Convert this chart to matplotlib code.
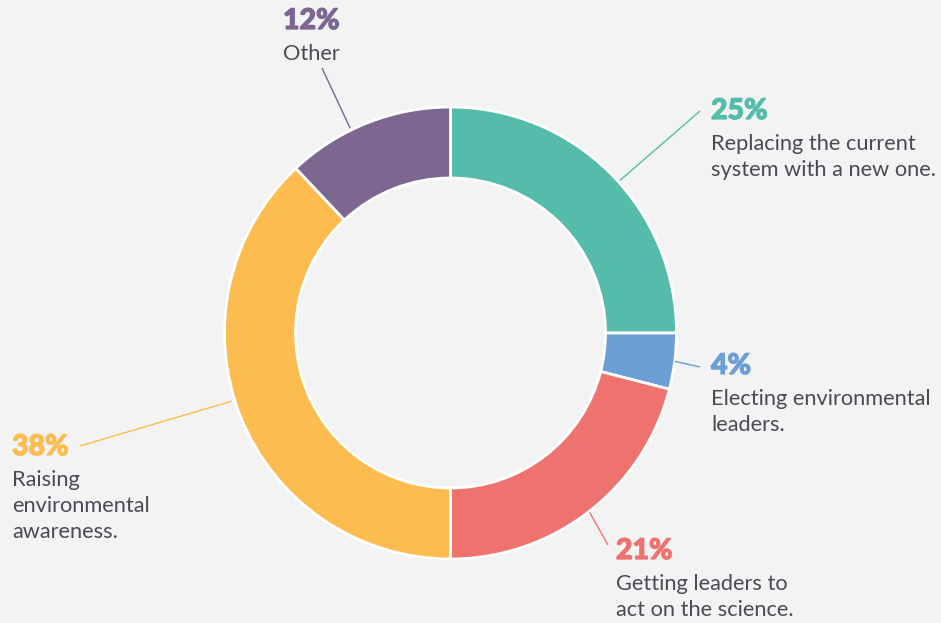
import matplotlib
matplotlib.use("Agg")
import matplotlib.pyplot as plt
import matplotlib.patheffects as pe
import numpy as np

categories = ["Replacing the current\nsystem with a new one.",
              "Electing environmental\nleaders.",
              "Getting leaders to\nact on the science.",
              "Raising\nenvironmental\nawareness.",
              "Other"]
values = [25, 4, 21, 38, 12]
pct_labels = ["25%", "4%", "21%", "38%", "12%"]
colors = ["#55BCAB", "#6E9ED6", "#EE726D", "#FCBC50", "#7D6690"]

W, H = 941, 623
BG = "#F3F3F3"
TXT = "#4A4A56"
FONT = "Lato"

fig = plt.figure(figsize=(W / 100, H / 100), dpi=100, facecolor=BG)
ax = fig.add_axes([0, 0, 1, 1])
ax.set_facecolor(BG)

cx, cy, R = 450.5, H - 333, 226
ring = 71
ax.pie(values, colors=colors, startangle=90, counterclock=False,
       center=(cx, cy), radius=R, frame=True,
       wedgeprops=dict(width=ring, edgecolor="white", linewidth=2))
ax.set_xlim(0, W)
ax.set_ylim(0, H)
ax.set_aspect("equal")
ax.axis("off")

# label layout: (text x, pct baseline y px, leader end px)
label_pos = [(711, 119, (700, 111)),
             (711, 374, (700, 367)),
             (616, 559, (608, 545)),
             (12, 455, (80, 446)),
             (283, 29, (322, 68))]
leader_start_r = [228, 226, 227, 229, 228]
angle_adj = [3, 0, 0, 4.3, -4.5]

cum = np.cumsum([0] + values[:-1])
total = sum(values)
for i, (v, c) in enumerate(zip(values, colors)):
    mid = (cum[i] + v / 2) / total * 360 + angle_adj[i]
    th = np.deg2rad(90 - mid)
    sx = cx + leader_start_r[i] * np.cos(th)
    sy = cy + leader_start_r[i] * np.sin(th)
    tx, pb, (ex, ey) = label_pos[i]
    ax.plot([sx, ex], [sy, H - ey], color=c, lw=1, solid_capstyle="butt")
    ax.text(tx, H - pb, pct_labels[i], color=c, fontsize=20.5, fontweight=900,
            family=FONT, ha="left", va="baseline",
            path_effects=[pe.withStroke(linewidth=0.9, foreground=c)])
    for j, line in enumerate(categories[i].split("\n")):
        ax.text(tx, H - (pb + 31 + 26 * j), line, color=TXT, fontsize=15.7,
                family=FONT, ha="left", va="baseline")

fig.savefig("out.png", dpi=100, facecolor=BG)
